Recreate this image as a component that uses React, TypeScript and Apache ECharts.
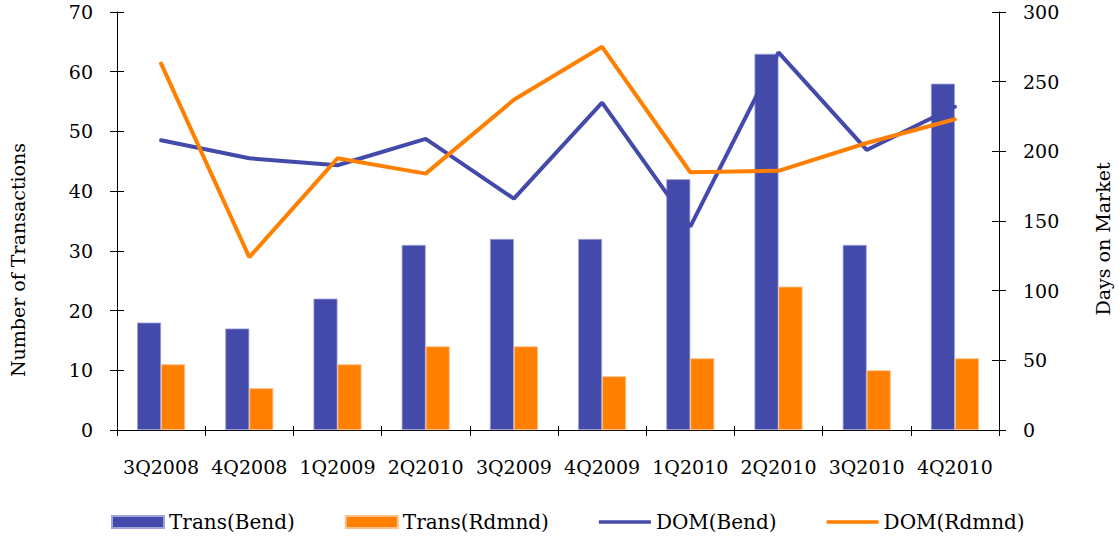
import React, { useEffect, useRef } from "react";
import * as echarts from "echarts";

const categories = ["3Q2008", "4Q2008", "1Q2009", "2Q2010", "3Q2009", "4Q2009", "1Q2010", "2Q2010", "3Q2010", "4Q2010"];
const transBend = [18, 17, 22, 31, 32, 32, 42, 63, 31, 58];
const transRdmnd = [11, 7, 11, 14, 14, 9, 12, 24, 10, 12];
const domBend = [208, 195, 190, 209, 166, 235, 146, 271, 201, 232];
const domRdmnd = [263, 124, 195, 184, 237, 275, 185, 186, 206, 223];

const BLUE = "#434AA9";
const ORANGE = "#FF7F00";
const FONT = "DejaVu Serif";
const FS = 19;
const LINE_ICON = "path://M0,0H54V3.6H0Z";

export default function App() {
  const ref = useRef<HTMLDivElement>(null);
  useEffect(() => {
    if (!ref.current) return;
    const chart = echarts.init(ref.current, undefined, { renderer: "svg" });
    const axisLine = { show: true, lineStyle: { color: "#000", width: 1 } };
    chart.setOption({
      animation: false,
      backgroundColor: "#fff",
      textStyle: { fontFamily: FONT, color: "#000" },
      grid: { left: 117, right: 120, top: 12, bottom: 110, containLabel: false },
      legend: {
        left: 111,
        top: 512,
        padding: 0,
        itemWidth: 52,
        itemHeight: 12,
        itemGap: 50,
        textStyle: { fontFamily: FONT, fontSize: 20, color: "#000" },
        data: [
          { name: "Trans(Bend)", icon: "rect" },
          { name: "Trans(Rdmnd)", icon: "rect" },
          { name: "DOM(Bend)", icon: LINE_ICON },
          { name: "DOM(Rdmnd)", icon: LINE_ICON },
        ],
      },
      xAxis: [
        {
          type: "category",
          data: categories,
          position: "bottom",
          axisLine,
          axisTick: { show: true, length: 6, interval: 0, lineStyle: { color: "#000" } },
          axisLabel: { fontFamily: FONT, fontSize: FS, color: "#000", margin: 27, interval: 0 },
          splitLine: { show: false },
        },
        {
          type: "category",
          data: categories,
          position: "bottom",
          axisLine: { show: false },
          axisTick: { show: true, inside: true, length: 4, interval: 0, lineStyle: { color: "#000" } },
          axisLabel: { show: false },
          splitLine: { show: false },
        },
      ],
      yAxis: [
        {
          type: "value",
          min: 0,
          max: 70,
          interval: 10,
          position: "left",
          axisLine,
          axisTick: { show: true, length: 7, lineStyle: { color: "#000" } },
          axisLabel: { fontFamily: FONT, fontSize: FS, color: "#000", margin: 24 },
          splitLine: { show: false },
        },
        {
          type: "value",
          min: 0,
          max: 300,
          interval: 50,
          position: "right",
          axisLine,
          axisTick: { show: true, length: 7, lineStyle: { color: "#000" } },
          axisLabel: { fontFamily: FONT, fontSize: FS, color: "#000", margin: 24 },
          splitLine: { show: false },
        },
        {
          type: "value",
          min: 0,
          max: 70,
          interval: 10,
          position: "left",
          axisLine: { show: false },
          axisTick: { show: true, inside: true, length: 7, lineStyle: { color: "#000" } },
          axisLabel: { show: false },
          splitLine: { show: false },
        },
        {
          type: "value",
          min: 0,
          max: 300,
          interval: 50,
          position: "right",
          axisLine: { show: false },
          axisTick: { show: true, inside: true, length: 7, lineStyle: { color: "#000" } },
          axisLabel: { show: false },
          splitLine: { show: false },
        },
      ],
      graphic: [
        {
          type: "text",
          x: 18,
          y: 260,
          rotation: Math.PI / 2,
          style: {
            text: "Number of Transactions",
            fontFamily: FONT,
            fontSize: FS,
            fill: "#000",
            align: "center",
            verticalAlign: "middle",
          },
        },
        {
          type: "text",
          x: 1103,
          y: 239,
          rotation: Math.PI / 2,
          style: {
            text: "Days on Market",
            fontFamily: FONT,
            fontSize: FS,
            fill: "#000",
            align: "center",
            verticalAlign: "middle",
          },
        },
      ],
      series: [
        {
          name: "Trans(Bend)",
          type: "bar",
          yAxisIndex: 0,
          data: transBend,
          barWidth: 24,
          barGap: "0%",
          itemStyle: { color: BLUE, borderColor: "#9FA3DA", borderWidth: 0.8 },
        },
        {
          name: "Trans(Rdmnd)",
          type: "bar",
          yAxisIndex: 0,
          data: transRdmnd,
          barWidth: 24,
          barGap: "0%",
          itemStyle: { color: ORANGE, borderColor: "#FFC08A", borderWidth: 0.8 },
        },
        {
          name: "DOM(Bend)",
          type: "line",
          yAxisIndex: 1,
          data: domBend,
          showSymbol: false,
          symbol: "none",
          lineStyle: { color: BLUE, width: 4, cap: "round" },
          itemStyle: { color: BLUE },
        },
        {
          name: "DOM(Rdmnd)",
          type: "line",
          yAxisIndex: 1,
          data: domRdmnd,
          showSymbol: false,
          symbol: "none",
          lineStyle: { color: ORANGE, width: 4, cap: "round" },
          itemStyle: { color: ORANGE },
        },
      ],
    });
    return () => chart.dispose();
  }, []);
  return <div ref={ref} style={{ position: "fixed", left: 0, top: 0, width: 1119, height: 540 }} />;
}
